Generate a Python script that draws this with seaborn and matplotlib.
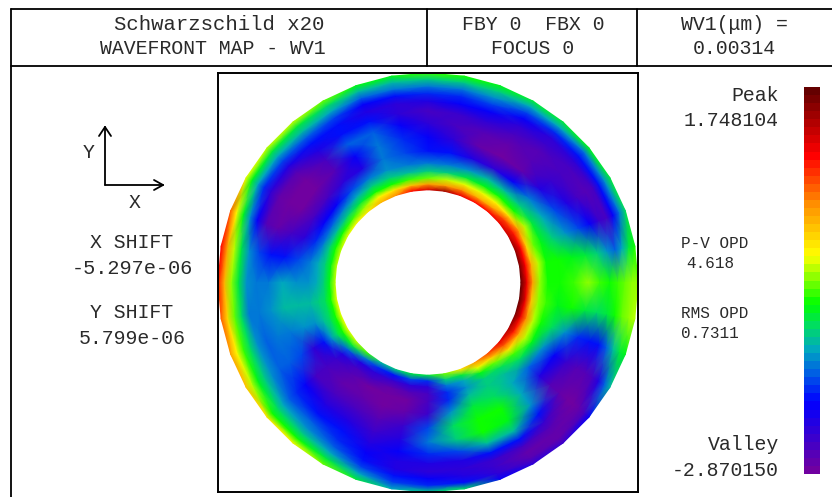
import numpy as np
import matplotlib
matplotlib.use("Agg")
import matplotlib.pyplot as plt
import matplotlib.transforms as mtrans
from matplotlib.colors import LinearSegmentedColormap
from matplotlib.lines import Line2D
import seaborn as sns

# radial stations of the ring (px from the centre), inner to outer
radii = [93, 99, 105, 112, 120, 132, 146, 160, 172, 182, 190, 197, 204, 210]

# OPD in waves, one list per angle (deg, counterclockwise from +x)
a000 = [1.7, 1.0, 0.3, -0.5, -0.8, -0.8, -0.7, -0.55, -0.7, -0.8, -0.75, -0.65, -0.55, -0.5]
a010 = [1.6, 0.9, 0.2, -0.4, -0.8, -0.8, -0.85, -1.0, -1.2, -1.5, -1.7, -1.4, -1.0, -0.8]
a020 = [1.5, 0.9, 0.0, -0.6, -0.9, -1.2, -1.5, -1.8, -2.1, -2.4, -2.5, -2.1, -1.6, -1.1]
a030 = [1.2, 0.8, 0.3, -0.4, -1.0, -1.4, -1.8, -2.2, -2.5, -2.6, -2.5, -2.0, -1.5, -1.0]
a040 = [1.0, 0.6, -0.1, -0.8, -1.2, -1.6, -2.2, -2.45, -2.5, -2.5, -2.3, -2.0, -1.6, -0.9]
a050 = [0.9, 0.3, -0.2, -0.8, -1.3, -2.1, -2.7, -2.6, -2.6, -2.4, -2.3, -1.9, -1.4, -1.0]
a060 = [0.9, 0.2, -0.3, -0.9, -1.3, -2.3, -2.8, -2.7, -2.5, -2.3, -2.1, -1.8, -1.4, -1.0]
a070 = [1.0, 0.4, -0.3, -1.0, -1.5, -2.2, -2.7, -2.6, -2.3, -2.1, -1.8, -1.5, -1.2, -0.9]
a080 = [1.4, 0.3, -0.4, -1.2, -1.6, -2.0, -2.3, -2.5, -2.4, -2.1, -1.9, -1.6, -1.2, -0.8]
a090 = [1.1, 0.3, -0.6, -1.2, -1.6, -2.0, -2.1, -2.3, -2.5, -2.2, -1.9, -1.6, -1.2, -0.7]
a100 = [0.9, 0.1, -0.7, -1.3, -1.6, -1.8, -1.9, -2.1, -2.3, -2.3, -2.0, -1.6, -1.3, -0.9]
a110 = [0.4, -0.1, -0.8, -1.2, -1.5, -1.6, -1.6, -1.65, -2.0, -2.2, -2.1, -1.7, -1.3, -0.9]
a120 = [0.2, -0.2, -0.8, -1.2, -1.6, -2.2, -2.1, -1.7, -2.0, -2.0, -1.8, -1.4, -1.1, -0.6]
a130 = [-0.1, -0.5, -1.0, -1.4, -1.8, -2.3, -2.6, -2.5, -2.2, -2.0, -1.7, -1.3, -1.0, -0.4]
a140 = [-0.2, -0.7, -1.2, -1.6, -2.1, -2.5, -2.8, -2.85, -2.6, -2.2, -1.8, -1.4, -1.0, -0.4]
a150 = [-0.3, -0.8, -1.3, -1.7, -2.1, -2.5, -2.85, -2.85, -2.7, -2.3, -1.9, -1.4, -0.9, -0.3]
a160 = [-0.4, -0.8, -1.2, -1.6, -1.9, -2.3, -2.5, -2.7, -2.6, -2.1, -1.5, -0.9, -0.2, 0.5]
a170 = [-0.4, -0.9, -1.2, -1.4, -1.6, -1.8, -2.0, -2.0, -1.8, -1.5, -1.0, -0.4, 0.3, 0.9]
a180 = [-0.4, -0.9, -1.2, -1.4, -1.45, -1.5, -1.35, -1.55, -1.6, -1.5, -1.0, -0.5, 0.2, 0.8]
a190 = [-0.3, -0.8, -1.1, -1.2, -1.3, -1.3, -1.3, -1.45, -1.6, -1.55, -1.1, -0.6, 0.0, 0.5]
a200 = [-0.3, -0.8, -1.1, -1.3, -1.5, -1.5, -1.55, -1.6, -1.65, -1.5, -1.1, -0.7, -0.2, 0.3]
a210 = [-0.3, -0.8, -1.1, -1.5, -2.0, -2.3, -1.8, -1.7, -1.65, -1.5, -1.2, -0.9, -0.4, 0.1]
a220 = [-0.4, -1.0, -1.7, -2.2, -2.4, -2.5, -2.5, -2.1, -1.9, -1.7, -1.4, -1.1, -0.8, -0.1]
a230 = [-0.7, -1.6, -2.2, -2.5, -2.6, -2.7, -2.5, -2.2, -2.0, -1.7, -1.5, -1.2, -0.8, -0.2]
a240 = [-1.3, -1.9, -2.3, -2.5, -2.8, -2.75, -2.5, -2.2, -2.0, -1.9, -1.7, -1.4, -1.0, -0.6]
a250 = [-1.2, -2.0, -2.4, -2.7, -2.87, -2.8, -2.6, -2.4, -2.2, -2.1, -2.0, -1.8, -1.4, -1.0]
a260 = [-1.0, -1.8, -2.3, -2.6, -2.8, -2.7, -2.4, -2.2, -2.1, -2.2, -2.2, -2.0, -1.8, -1.4]
a270 = [-1.0, -1.9, -2.3, -2.5, -2.5, -2.4, -1.8, -1.6, -1.9, -2.2, -2.3, -2.1, -1.9, -1.2]
a280 = [-0.6, -1.2, -1.6, -1.9, -1.9, -1.5, -1.1, -1.2, -1.8, -2.2, -2.3, -2.2, -2.0, -1.1]
a290 = [-0.1, -1.0, -1.4, -1.5, -1.3, -1.0, -0.8, -0.8, -1.3, -2.0, -2.4, -2.4, -2.3, -2.1]
a300 = [0.3, -0.3, -0.9, -1.2, -1.2, -1.1, -0.8, -0.9, -1.3, -2.0, -2.5, -2.7, -2.6, -2.3]
a310 = [0.6, 0.0, -0.6, -1.1, -1.3, -1.4, -1.4, -1.5, -2.0, -2.4, -2.6, -2.7, -2.7, -2.4]
a320 = [1.0, 0.5, -0.1, -0.7, -1.1, -1.7, -2.2, -2.6, -2.75, -2.8, -2.8, -2.7, -2.5, -2.1]
a330 = [1.3, 0.8, 0.2, -0.4, -0.9, -1.5, -2.1, -2.4, -2.6, -2.6, -2.5, -2.2, -1.7, -1.3]
a340 = [1.6, 1.0, 0.4, -0.4, -0.8, -1.1, -1.5, -1.9, -2.0, -2.0, -1.7, -1.3, -1.0, -0.9]
a350 = [1.7, 1.0, 0.1, -0.5, -0.75, -0.85, -0.8, -1.0, -1.1, -1.0, -0.8, -0.6, -0.5, -0.45]

by_angle = [a000, a010, a020, a030, a040, a050, a060, a070, a080, a090, a100, a110,
            a120, a130, a140, a150, a160, a170, a180, a190, a200, a210, a220, a230,
            a240, a250, a260, a270, a280, a290, a300, a310, a320, a330, a340, a350]

valley = -2.870150
peak = 1.748104

W, H = 832, 497


class RingTransform(mtrans.Transform):
    # heatmap cell indices -> x, y on the ring
    input_dims = 2
    output_dims = 2

    def transform_non_affine(self, xy):
        xy = np.asarray(xy, dtype=float)
        theta = np.deg2rad(xy[:, 0] * 10)
        r = np.interp(xy[:, 1], np.arange(len(radii)), radii)
        return np.column_stack([r * np.cos(theta), r * np.sin(theta)])


def px_axes(x0, y0, x1, y1):
    return fig.add_axes([x0 / W, 1 - y1 / H, (x1 - x0) / W, (y1 - y0) / H])


def label(x, y, s, size=14.3, ha="center"):
    fig.text(x / W, 1 - y / H, s, fontsize=size, ha=ha, va="center", color="#2a2a2a")


def seg(x0, y0, x1, y1, lw=1.3):
    fig.add_artist(Line2D([x0 / W, x1 / W], [1 - y0 / H, 1 - y1 / H], color="black", lw=lw,
                          transform=fig.transFigure))


sns.set_style("white")
plt.rcParams["font.family"] = ["Liberation Mono", "DejaVu Sans"]

stops = [(0.0, "#7000a0"), (0.18, "#0000ff"), (0.25, "#005ae6"), (0.32, "#00aabe"),
         (0.38, "#00dc64"), (0.44, "#00ff00"), (0.565, "#ffff00"), (0.70, "#ff9000"),
         (0.83, "#ff0000"), (1.0, "#640000")]
wave_cmap = LinearSegmentedColormap.from_list("wavefront", stops, N=48)

# rows = radii, columns = angles, first angle repeated to close the ring
wavefront = np.array(by_angle).T
wavefront = np.column_stack([wavefront, wavefront[:, 0]])

fig = plt.figure(figsize=(W / 100, H / 100), dpi=100)
ax = px_axes(218, 73, 638, 492)
cax = px_axes(804, 87, 820, 474)

sns.heatmap(wavefront, ax=ax, cbar_ax=cax, cmap=wave_cmap, vmin=valley, vmax=peak,
            xticklabels=False, yticklabels=False, shading="gouraud")
mesh = ax.collections[0]
mesh.set_transform(RingTransform() + ax.transData)
ax.set_xlim(-210, 210)
ax.set_ylim(-210, 210)
for s in ax.spines.values():
    s.set_visible(True)
    s.set_color("black")
    s.set_linewidth(1.4)
cax.set_yticks([])
mesh.colorbar.outline.set_visible(False)

# header box
seg(11, 9, 832, 9)
seg(11, 66, 832, 66)
seg(11, 9, 11, 497)
seg(427, 9, 427, 66)
seg(637, 9, 637, 66)

label(219, 24, "Schwarzschild x20", size=14.9)
label(213, 49, "WAVEFRONT MAP - WV1")
label(533, 24, "FBY 0  FBX 0")
label(533, 49, "FOCUS 0")
label(734, 24, "WV1(\u03bcm) =")
label(734, 49, "0.00314")

# axis arrows
seg(105, 185, 105, 127)
seg(105, 185, 163, 185)
seg(105, 127, 99, 136)
seg(105, 127, 111, 136)
seg(163, 185, 154, 180)
seg(163, 185, 154, 190)
label(89, 153, "Y")
label(135, 202, "X")

label(132, 243, "X SHIFT")
label(132, 269, "-5.297e-06", size=14.6)
label(132, 313, "Y SHIFT")
label(132, 339, "5.799e-06")

label(779, 96, "Peak", ha="right")
label(779, 121, "1.748104", ha="right")
label(779, 445, "Valley", ha="right")
label(779, 470, "-2.870150", ha="right")

label(681, 244, "P-V OPD", size=11.5, ha="left")
label(686, 263, "4.618", size=11.5, ha="left")
label(681, 313, "RMS OPD", size=11.5, ha="left")
label(681, 333, "0.7311", size=11.5, ha="left")

fig.savefig("out.png", dpi=100)
